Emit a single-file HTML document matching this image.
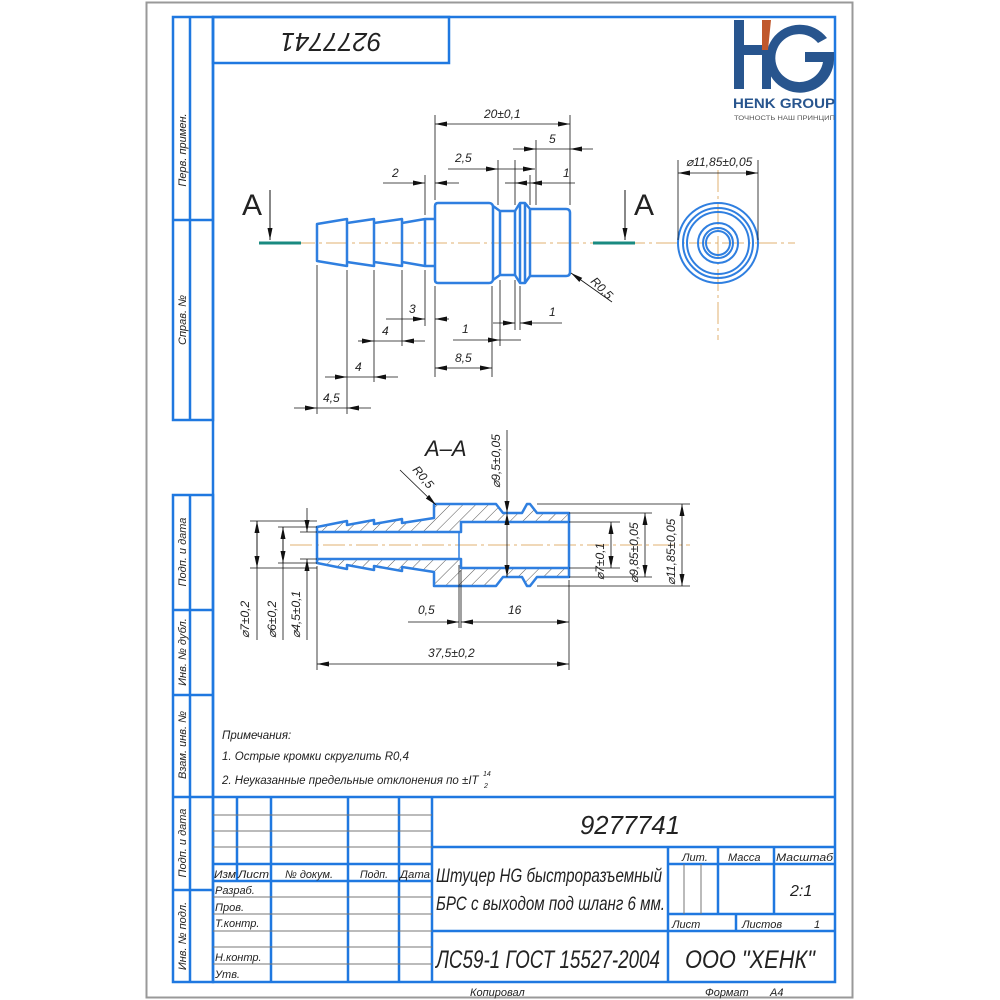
<!DOCTYPE html>
<html><head><meta charset="utf-8"><style>
body{margin:0;background:#fff}
svg{display:block}
text{font-family:"Liberation Sans",sans-serif;font-style:italic;fill:#222}
.n{font-style:normal}
</style></head><body>
<svg width="1000" height="1000" viewBox="0 0 1000 1000" xmlns="http://www.w3.org/2000/svg">
<defs>
<marker id="a" viewBox="0 0 12 6" refX="12" refY="3" markerWidth="12" markerHeight="6" markerUnits="userSpaceOnUse" orient="auto-start-reverse"><path d="M0,0.5L12,3L0,5.5Z" fill="#111"/></marker>
<pattern id="h" width="9" height="9" patternUnits="userSpaceOnUse" patternTransform="rotate(45)"><line x1="0" y1="0" x2="0" y2="9" stroke="#444" stroke-width="0.9"/></pattern>
</defs>
<rect x="0" y="0" width="1000" height="1000" fill="#fff"/>
<rect x="146.5" y="2.5" width="706" height="995" fill="none" stroke="#999" stroke-width="2"/>
<g stroke="#1f78e0" stroke-width="2.5" fill="none">
<rect x="213" y="17" width="622" height="965"/>
<rect x="213" y="17" width="236" height="46"/>
<rect x="173" y="17" width="40" height="403"/>
<line x1="190" y1="17" x2="190" y2="420"/>
<line x1="173" y1="220" x2="213" y2="220"/>
<rect x="173" y="495" width="40" height="487"/>
<line x1="190" y1="495" x2="190" y2="982"/>
<line x1="173" y1="610" x2="213" y2="610"/>
<line x1="173" y1="695" x2="213" y2="695"/>
<line x1="173" y1="797" x2="213" y2="797"/>
<line x1="173" y1="890" x2="213" y2="890"/>
<line x1="213" y1="797" x2="835" y2="797"/>
<line x1="271" y1="797" x2="271" y2="982"/>
<line x1="348" y1="797" x2="348" y2="982"/>
<line x1="399" y1="797" x2="399" y2="982"/>
<line x1="432" y1="797" x2="432" y2="982"/>
<line x1="237" y1="797" x2="237" y2="881"/>
<line x1="213" y1="864" x2="432" y2="864"/>
<line x1="213" y1="881" x2="432" y2="881"/>
<line x1="432" y1="847" x2="835" y2="847"/>
<line x1="432" y1="931" x2="835" y2="931"/>
<line x1="668" y1="847" x2="668" y2="982"/>
<line x1="718" y1="847" x2="718" y2="914"/>
<line x1="774" y1="847" x2="774" y2="914"/>
<line x1="668" y1="864" x2="835" y2="864"/>
<line x1="668" y1="914" x2="835" y2="914"/>
<line x1="736" y1="914" x2="736" y2="931"/>
</g>
<g stroke="#777" stroke-width="1">
<line x1="213" y1="815" x2="432" y2="815"/><line x1="213" y1="831" x2="432" y2="831"/><line x1="213" y1="847" x2="432" y2="847"/>
<line x1="213" y1="897" x2="432" y2="897"/><line x1="213" y1="914" x2="432" y2="914"/><line x1="213" y1="931" x2="432" y2="931"/><line x1="213" y1="947" x2="432" y2="947"/><line x1="213" y1="964" x2="432" y2="964"/>
<line x1="684" y1="864" x2="684" y2="914"/><line x1="701" y1="864" x2="701" y2="914"/>
</g>
<g font-size="11">
<text x="214" y="878" textLength="22" lengthAdjust="spacingAndGlyphs">Изм</text><text x="238" y="878" textLength="31" lengthAdjust="spacingAndGlyphs">Лист</text><text x="285" y="878" textLength="48" lengthAdjust="spacingAndGlyphs">№ докум.</text><text x="360" y="878" textLength="28" lengthAdjust="spacingAndGlyphs">Подп.</text><text x="400" y="878" textLength="30" lengthAdjust="spacingAndGlyphs">Дата</text>
<text x="215" y="894">Разраб.</text><text x="215" y="911">Пров.</text><text x="215" y="927">Т.контр.</text><text x="215" y="961">Н.контр.</text><text x="215" y="978">Утв.</text>
<text x="682" y="861">Лит.</text><text x="728" y="861">Масса</text><text x="776" y="861" textLength="57" lengthAdjust="spacingAndGlyphs">Масштаб</text>
<text x="672" y="928">Лист</text><text x="742" y="928">Листов</text><text x="814" y="928">1</text>
<text x="470" y="996">Копировал</text><text x="705" y="996">Формат</text><text x="770" y="996">A4</text>
</g>
<text x="580" y="834" font-size="26" textLength="100" lengthAdjust="spacingAndGlyphs">9277741</text>
<text x="436" y="882" font-size="19" textLength="226" lengthAdjust="spacingAndGlyphs">Штуцер HG быстроразъемный</text>
<text x="436" y="910" font-size="19" textLength="229" lengthAdjust="spacingAndGlyphs">БРС с выходом под шланг 6 мм.</text>
<text x="436" y="968" font-size="25" textLength="224" lengthAdjust="spacingAndGlyphs">ЛС59-1 ГОСТ 15527-2004</text>
<text x="685" y="968" font-size="25" textLength="130" lengthAdjust="spacingAndGlyphs">ООО "ХЕНК"</text>
<text x="790" y="896" font-size="16">2:1</text>
<text x="331" y="40" font-size="26" text-anchor="middle" dominant-baseline="middle" transform="rotate(180 331 40)">9277741</text>
<g font-size="11">
<text transform="translate(186,150) rotate(-90)" text-anchor="middle">Перв. примен.</text>
<text transform="translate(186,320) rotate(-90)" text-anchor="middle">Справ. №</text>
<text transform="translate(186,552) rotate(-90)" text-anchor="middle">Подп. и дата</text>
<text transform="translate(186,652) rotate(-90)" text-anchor="middle">Инв. № дубл.</text>
<text transform="translate(186,745) rotate(-90)" text-anchor="middle">Взам. инв. №</text>
<text transform="translate(186,843) rotate(-90)" text-anchor="middle">Подп. и дата</text>
<text transform="translate(186,936) rotate(-90)" text-anchor="middle">Инв. № подл.</text>
</g>
<g fill="#28558e">
<rect x="734" y="20" width="10" height="69"/>
<rect x="744" y="45" width="18" height="10"/>
<rect x="762" y="50" width="9" height="39"/>
<path d="M827,38 A34,34 0 1 0 834,60 L834,52 L805,52 L805,62 L823,62 A24,24 0 1 1 818,43 Z"/>
</g>
<polygon points="762,20 771,20 768,50 762,50" fill="#c0582c"/>
<text x="733" y="108" font-size="13.5" font-weight="bold" class="n" style="fill:#28558e;font-style:normal" textLength="102" lengthAdjust="spacingAndGlyphs">HENK GROUP</text>
<text x="734" y="120" font-size="6.5" class="n" style="font-style:normal;fill:#555" textLength="101" lengthAdjust="spacingAndGlyphs">ТОЧНОСТЬ НАШ ПРИНЦИП</text>
<g stroke="#e0b070" stroke-width="1" stroke-dasharray="22,4,3,4">
<line x1="260" y1="243" x2="795" y2="243"/>
<line x1="718" y1="170" x2="718" y2="340"/>
<line x1="290" y1="545" x2="690" y2="545"/>
</g>
<g stroke="#1a8a80" stroke-width="3"><line x1="259" y1="243" x2="301" y2="243"/><line x1="593" y1="243" x2="635" y2="243"/></g>
<g stroke="#2f7fe0" stroke-width="2.5" fill="none" stroke-linejoin="round">
<path d="M317,224 L347,219 L347,266 L317,261 Z"/>
<path d="M347,223 L374,219 L374,266 L347,262"/>
<path d="M374,223 L402,219 L402,266 L374,262"/>
<path d="M402,223 L425,219 L435,219 M425,219 L425,266 L435,266 M402,262 L425,266"/>
<path d="M438,203 L489,203 Q492,203 493,206 L500,211 L515,211 L520,203 L525,203 L530,209 L566,209 Q570,209 570,213 L570,272 Q570,276 566,276 L530,276 L525,283 L520,283 L515,275 L500,275 L493,280 Q492,283 489,283 L438,283 Q435,283 435,280 L435,206 Q435,203 438,203 Z"/>
<line x1="493" y1="206" x2="493" y2="280"/><line x1="500" y1="211" x2="500" y2="275"/><line x1="515" y1="211" x2="515" y2="275"/><line x1="520" y1="203" x2="520" y2="283"/><line x1="525" y1="203" x2="525" y2="283"/><line x1="530" y1="209" x2="530" y2="276"/>
</g>
<g stroke="#2f7fe0" stroke-width="2" fill="none">
<circle cx="718" cy="243" r="40"/><circle cx="718" cy="243" r="35"/><circle cx="718" cy="243" r="31"/><circle cx="718" cy="243" r="20"/><circle cx="718" cy="243" r="15"/><circle cx="718" cy="243" r="12"/>
</g>
<text x="242" y="215" font-size="30" class="n" style="font-style:normal">A</text>
<text x="634" y="215" font-size="30" class="n" style="font-style:normal">A</text>
<g stroke="#111" stroke-width="1" fill="none">
<line x1="270" y1="190" x2="270" y2="240" marker-end="url(#a)"/>
<line x1="625" y1="190" x2="625" y2="240" marker-end="url(#a)"/>
</g>
<g stroke="#111" stroke-width="0.8" fill="none">
<line x1="435" y1="115" x2="435" y2="200"/><line x1="570" y1="115" x2="570" y2="205"/>
<line x1="435" y1="124" x2="570" y2="124" marker-start="url(#a)" marker-end="url(#a)"/>
<line x1="536" y1="140" x2="536" y2="205"/>
<line x1="513" y1="149" x2="536" y2="149" marker-end="url(#a)"/><line x1="570" y1="149" x2="593" y2="149" marker-start="url(#a)"/><line x1="536" y1="149" x2="570" y2="149"/>
<line x1="498" y1="160" x2="498" y2="205"/><line x1="515" y1="160" x2="515" y2="205"/><line x1="530" y1="175" x2="530" y2="205"/>
<line x1="448" y1="169" x2="498" y2="169" marker-end="url(#a)"/><line x1="498" y1="169" x2="535" y2="169" marker-end="url(#a)"/>
<line x1="425" y1="175" x2="425" y2="215"/>
<line x1="383" y1="183" x2="425" y2="183" marker-end="url(#a)"/><line x1="459" y1="183" x2="435" y2="183" marker-end="url(#a)"/>
<line x1="505" y1="183" x2="515" y2="183"/><line x1="515" y1="183" x2="530" y2="183" marker-start="url(#a)"/><line x1="575" y1="183" x2="530" y2="183" marker-end="url(#a)"/>
<line x1="317" y1="265" x2="317" y2="414"/><line x1="347" y1="270" x2="347" y2="414"/><line x1="374" y1="270" x2="374" y2="382"/><line x1="402" y1="270" x2="402" y2="346"/><line x1="425" y1="270" x2="425" y2="326"/>
<line x1="435" y1="286" x2="435" y2="377"/><line x1="492" y1="286" x2="492" y2="377"/><line x1="500" y1="280" x2="500" y2="346"/><line x1="515" y1="280" x2="515" y2="330"/><line x1="520" y1="286" x2="520" y2="330"/>
<line x1="386" y1="319" x2="425" y2="319" marker-end="url(#a)"/><line x1="449" y1="319" x2="435" y2="319" marker-end="url(#a)"/>
<line x1="358" y1="341" x2="374" y2="341" marker-end="url(#a)"/><line x1="374" y1="341" x2="402" y2="341"/><line x1="425" y1="341" x2="402" y2="341" marker-end="url(#a)"/>
<line x1="325" y1="377" x2="347" y2="377" marker-end="url(#a)"/><line x1="347" y1="377" x2="374" y2="377"/><line x1="398" y1="377" x2="374" y2="377" marker-end="url(#a)"/>
<line x1="294" y1="408" x2="317" y2="408" marker-end="url(#a)"/><line x1="317" y1="408" x2="347" y2="408"/><line x1="371" y1="408" x2="347" y2="408" marker-end="url(#a)"/>
<line x1="453" y1="340" x2="500" y2="340" marker-end="url(#a)"/><line x1="521" y1="340" x2="500" y2="340"/>
<line x1="493" y1="323" x2="515" y2="323" marker-end="url(#a)"/><line x1="562" y1="323" x2="520" y2="323" marker-end="url(#a)"/>
<line x1="435" y1="368" x2="492" y2="368" marker-start="url(#a)" marker-end="url(#a)"/>
<line x1="612" y1="302" x2="571" y2="273" marker-end="url(#a)"/>
<line x1="678" y1="160" x2="678" y2="240"/><line x1="758" y1="160" x2="758" y2="240"/>
<line x1="678" y1="173" x2="758" y2="173" marker-start="url(#a)" marker-end="url(#a)"/>
</g>
<g font-size="12">
<text x="484" y="118">20±0,1</text><text x="549" y="143">5</text><text x="455" y="162">2,5</text><text x="392" y="177">2</text><text x="563" y="177">1</text>
<text x="409" y="313">3</text><text x="382" y="335">4</text><text x="355" y="371">4</text><text x="323" y="402">4,5</text>
<text x="462" y="333">1</text><text x="549" y="316">1</text><text x="455" y="362">8,5</text><text x="686" y="166">⌀11,85±0,05</text>
<text transform="translate(590,282) rotate(45)">R0,5</text>
</g>
<path d="M317,527 L347,521 L347,525 L374,520 L374,524 L402,519 L402,523 L434,518 L434,504 L496,504 L503,513 L522,513 L527,504 L530,504 L537,513 L569,513 L569,577 L537,577 L530,586 L527,586 L522,577 L503,577 L496,586 L434,586 L434,572 L402,567 L402,571 L374,566 L374,570 L347,565 L347,569 L317,563 Z M317,532 L461,532 L461,522 L569,522 L569,568 L461,568 L461,559 L317,559 Z" fill="url(#h)" fill-rule="evenodd" stroke="#2f7fe0" stroke-width="2.5" stroke-linejoin="round"/>
<line x1="459" y1="532" x2="459" y2="559" stroke="#2f7fe0" stroke-width="1.5"/>
<text x="425" y="456" font-size="22">A–A</text>
<g stroke="#111" stroke-width="0.8" fill="none">
<line x1="250" y1="521" x2="317" y2="521"/><line x1="250" y1="568" x2="317" y2="568"/>
<line x1="278" y1="527" x2="317" y2="527"/><line x1="278" y1="563" x2="317" y2="563"/>
<line x1="300" y1="532" x2="317" y2="532"/><line x1="300" y1="559" x2="317" y2="559"/>
<line x1="257" y1="521" x2="257" y2="640" /><line x1="257" y1="545" x2="257" y2="521" marker-end="url(#a)"/><line x1="257" y1="545" x2="257" y2="568" marker-end="url(#a)"/>
<line x1="283" y1="527" x2="283" y2="640"/><line x1="283" y1="545" x2="283" y2="527" marker-end="url(#a)"/><line x1="283" y1="545" x2="283" y2="563" marker-end="url(#a)"/>
<line x1="307" y1="508" x2="307" y2="532" marker-end="url(#a)"/><line x1="307" y1="640" x2="307" y2="559" marker-end="url(#a)"/>
<line x1="507" y1="430" x2="507" y2="513" marker-end="url(#a)"/><line x1="507" y1="513" x2="507" y2="577" marker-start="url(#a)" marker-end="url(#a)"/>
<line x1="569" y1="522" x2="620" y2="522"/><line x1="569" y1="568" x2="620" y2="568"/>
<line x1="569" y1="513" x2="652" y2="513"/><line x1="569" y1="577" x2="652" y2="577"/>
<line x1="537" y1="504" x2="690" y2="504"/><line x1="537" y1="586" x2="690" y2="586"/>
<line x1="611" y1="522" x2="611" y2="568" marker-start="url(#a)" marker-end="url(#a)"/>
<line x1="645" y1="513" x2="645" y2="577" marker-start="url(#a)" marker-end="url(#a)"/>
<line x1="682" y1="504" x2="682" y2="586" marker-start="url(#a)" marker-end="url(#a)"/>
<line x1="459" y1="565" x2="459" y2="628"/><line x1="461" y1="570" x2="461" y2="628"/><line x1="569" y1="580" x2="569" y2="670"/><line x1="317" y1="566" x2="317" y2="670"/>
<line x1="408" y1="622" x2="459" y2="622" marker-end="url(#a)"/><line x1="461" y1="622" x2="569" y2="622" marker-start="url(#a)" marker-end="url(#a)"/>
<line x1="317" y1="664" x2="569" y2="664" marker-start="url(#a)" marker-end="url(#a)"/>
<line x1="400" y1="470" x2="436" y2="505" marker-end="url(#a)"/>
</g>
<g font-size="12">
<text x="418" y="614">0,5</text><text x="508" y="614">16</text><text x="428" y="657">37,5±0,2</text>
<text transform="translate(249,638) rotate(-90)">⌀7±0,2</text>
<text transform="translate(276,638) rotate(-90)">⌀6±0,2</text>
<text transform="translate(300,638) rotate(-90)">⌀4,5±0,1</text>
<text transform="translate(500,488) rotate(-90)">⌀9,5±0,05</text>
<text transform="translate(604,580) rotate(-90)">⌀7±0,1</text>
<text transform="translate(638,583) rotate(-90)">⌀9,85±0,05</text>
<text transform="translate(675,585) rotate(-90)">⌀11,85±0,05</text>
<text transform="translate(412,470) rotate(50)">R0,5</text>
</g>
<g font-size="11.5">
<text x="222" y="739">Примечания:</text>
<text x="222" y="760">1. Острые кромки скруглить R0,4</text>
<text x="222" y="784">2. Неуказанные предельные отклонения по ±IT</text>
<text x="483" y="776" font-size="7">14</text><text x="484" y="788" font-size="7">2</text>
</g>
</svg>
</body></html>
